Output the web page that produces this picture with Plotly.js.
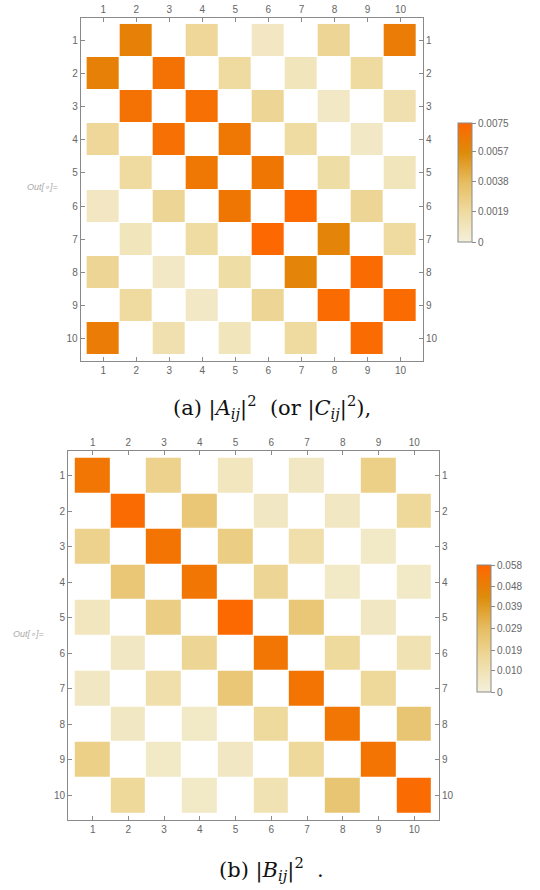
<!DOCTYPE html>
<html>
<head>
<meta charset="utf-8">
<script src="https://cdn.plot.ly/plotly-3.0.1.min.js"></script>
<style>html,body{margin:0;padding:0;background:#fff;}#chart{width:540px;height:890px;}</style>
</head>
<body>
<div id="chart"></div>
<script>
// ---- data ----
var indices = [1, 2, 3, 4, 5, 6, 7, 8, 9, 10];
var tickLabels = ["1", "2", "3", "4", "5", "6", "7", "8", "9", "10"];

// |A_ij|^2 (null = empty/white cell)
var matrixA = [
  [null, 0.0062, null, 0.0021, null, 0.0008, null, 0.0022, null, 0.0064],
  [0.0062, null, 0.0069, null, 0.0019, null, 0.0010, null, 0.0019, null],
  [null, 0.0069, null, 0.0070, null, 0.0022, null, 0.0007, null, 0.0014],
  [0.0021, null, 0.0070, null, 0.0066, null, 0.0018, null, 0.0007, null],
  [null, 0.0019, null, 0.0066, null, 0.0067, null, 0.0017, null, 0.0010],
  [0.0008, null, 0.0022, null, 0.0067, null, 0.0073, null, 0.0022, null],
  [null, 0.0010, null, 0.0018, null, 0.0074, null, 0.0060, null, 0.0019],
  [0.0022, null, 0.0007, null, 0.0017, null, 0.0060, null, 0.0072, null],
  [null, 0.0019, null, 0.0007, null, 0.0022, null, 0.0072, null, 0.0072],
  [0.0064, null, 0.0014, null, 0.0010, null, 0.0019, null, 0.0072, null]
];
var cbTicksA = [0, 0.0019, 0.0038, 0.0057, 0.0075];
var cbLabelsA = ["0", "0.0019", "0.0038", "0.0057", "0.0075"];
var zmaxA = 0.0075;

// |B_ij|^2
var matrixB = [
  [0.052, null, 0.019, null, 0.007, null, 0.006, null, 0.020, null],
  [null, 0.056, null, 0.024, null, 0.006, null, 0.006, null, 0.016],
  [0.019, null, 0.053, null, 0.021, null, 0.012, null, 0.005, null],
  [null, 0.024, null, 0.052, null, 0.017, null, 0.005, null, 0.005],
  [0.007, null, 0.021, null, 0.057, null, 0.024, null, 0.006, null],
  [null, 0.006, null, 0.017, null, 0.052, null, 0.015, null, 0.010],
  [0.006, null, 0.012, null, 0.024, null, 0.053, null, 0.016, null],
  [null, 0.006, null, 0.005, null, 0.015, null, 0.052, null, 0.025],
  [0.020, null, 0.005, null, 0.006, null, 0.016, null, 0.053, null],
  [null, 0.016, null, 0.005, null, 0.010, null, 0.025, null, 0.056]
];
var cbTicksB = [0, 0.010, 0.019, 0.029, 0.039, 0.048, 0.058];
var cbLabelsB = ["0", "0.010", "0.019", "0.029", "0.039", "0.048", "0.058"];
var zmaxB = 0.058;

// ---- styling ----
var W = 540, H = 890;
var colorscale = [
  [0, "#f4f0dc"], [0.25, "#efdba0"], [0.5, "#e6bd62"], [0.75, "#dd8c0a"], [1, "#ff6600"]
];
var axisColor = "#8a8a8a";
var tickFont = {family: "Liberation Sans, Arial, sans-serif", size: 10, color: "#666666"};

function px2x(p) { return p / W; }
function px2y(p) { return 1 - p / H; }

function makeAxis(domain, range, side, extra) {
  var a = {
    domain: domain, range: range, side: side,
    tickmode: "array", tickvals: indices, ticktext: tickLabels,
    ticks: "inside", ticklen: 4, tickcolor: axisColor, tickwidth: 1,
    showline: true, linecolor: axisColor, linewidth: 1,
    showgrid: false, zeroline: false, fixedrange: true,
    tickfont: tickFont
  };
  for (var k in extra) a[k] = extra[k];
  return a;
}

var padA = 0.18, padB = 0.19;
var rA = [0.5 - padA, 10.5 + padA];
var rB = [0.5 - padB, 10.5 + padB];
var dxA = [px2x(80.7), px2x(423)], dyA = [px2y(361), px2y(18)];
var dxB = [px2x(68), px2x(439)], dyB = [px2y(820), px2y(451)];

var traces = [
  {
    type: "heatmap", x: indices, y: indices, z: matrixA,
    zmin: 0, zmax: zmaxA, colorscale: colorscale, xgap: 1, ygap: 1,
    hoverongaps: false, xaxis: "x", yaxis: "y",
    colorbar: {
      x: px2x(458), xanchor: "left", y: px2y(182.5), yanchor: "middle",
      len: 119, lenmode: "pixels", thickness: 14, thicknessmode: "pixels",
      xpad: 0, ypad: 0, outlinewidth: 1, outlinecolor: axisColor,
      tickmode: "array", tickvals: cbTicksA, ticktext: cbLabelsA,
      ticks: "outside", ticklen: 4, tickcolor: axisColor,
      tickfont: tickFont
    }
  },
  {type: "scatter", x: [], y: [], xaxis: "x2", yaxis: "y2", showlegend: false, hoverinfo: "skip"},
  {
    type: "heatmap", x: indices, y: indices, z: matrixB,
    zmin: 0, zmax: zmaxB, colorscale: colorscale, xgap: 1, ygap: 1,
    hoverongaps: false, xaxis: "x3", yaxis: "y3",
    colorbar: {
      x: px2x(477), xanchor: "left", y: px2y(628.5), yanchor: "middle",
      len: 127, lenmode: "pixels", thickness: 14, thicknessmode: "pixels",
      xpad: 0, ypad: 0, outlinewidth: 1, outlinecolor: axisColor,
      tickmode: "array", tickvals: cbTicksB, ticktext: cbLabelsB,
      ticks: "outside", ticklen: 4, tickcolor: axisColor,
      tickfont: tickFont
    }
  },
  {type: "scatter", x: [], y: [], xaxis: "x4", yaxis: "y4", showlegend: false, hoverinfo: "skip"}
];

var capFont = {family: "DejaVu Serif, Liberation Serif, serif", size: 21, color: "#111"};
var outFont = {family: "Liberation Sans, Arial, sans-serif", size: 9, color: "#aaaaaa"};

var layout = {
  width: W, height: H,
  margin: {l: 0, r: 0, t: 0, b: 0},
  paper_bgcolor: "#ffffff", plot_bgcolor: "#ffffff",
  showlegend: false,
  xaxis: makeAxis(dxA, rA, "bottom", {anchor: "y"}),
  yaxis: makeAxis(dyA, [rA[1], rA[0]], "left", {anchor: "x"}),
  xaxis2: makeAxis(dxA, rA, "top", {anchor: "y2", overlaying: "x"}),
  yaxis2: makeAxis(dyA, [rA[1], rA[0]], "right", {anchor: "x2", overlaying: "y"}),
  xaxis3: makeAxis(dxB, rB, "bottom", {anchor: "y3"}),
  yaxis3: makeAxis(dyB, [rB[1], rB[0]], "left", {anchor: "x3"}),
  xaxis4: makeAxis(dxB, rB, "top", {anchor: "y4", overlaying: "x3"}),
  yaxis4: makeAxis(dyB, [rB[1], rB[0]], "right", {anchor: "x4", overlaying: "y3"}),
  annotations: [
    {xref: "paper", yref: "paper", x: px2x(272), y: px2y(407), xanchor: "center", yanchor: "middle",
     showarrow: false, font: capFont,
     text: "(a) |<i>A</i><sub><i>ij</i></sub>|<sup>2</sup>&nbsp; (or |<i>C</i><sub><i>ij</i></sub>|<sup>2</sup>),"},
    {xref: "paper", yref: "paper", x: px2x(271), y: px2y(869), xanchor: "center", yanchor: "middle",
     showarrow: false, font: capFont,
     text: "(b) |<i>B</i><sub><i>ij</i></sub>|<sup>2</sup>&nbsp; ."},
    {xref: "paper", yref: "paper", x: px2x(42), y: px2y(187), xanchor: "center", yanchor: "middle",
     showarrow: false, font: outFont, text: "<i>Out[∘]=</i>"},
    {xref: "paper", yref: "paper", x: px2x(28), y: px2y(634), xanchor: "center", yanchor: "middle",
     showarrow: false, font: outFont, text: "<i>Out[∘]=</i>"}
  ]
};

Plotly.newPlot("chart", traces, layout, {displayModeBar: false, staticPlot: true});
</script>
</body>
</html>
